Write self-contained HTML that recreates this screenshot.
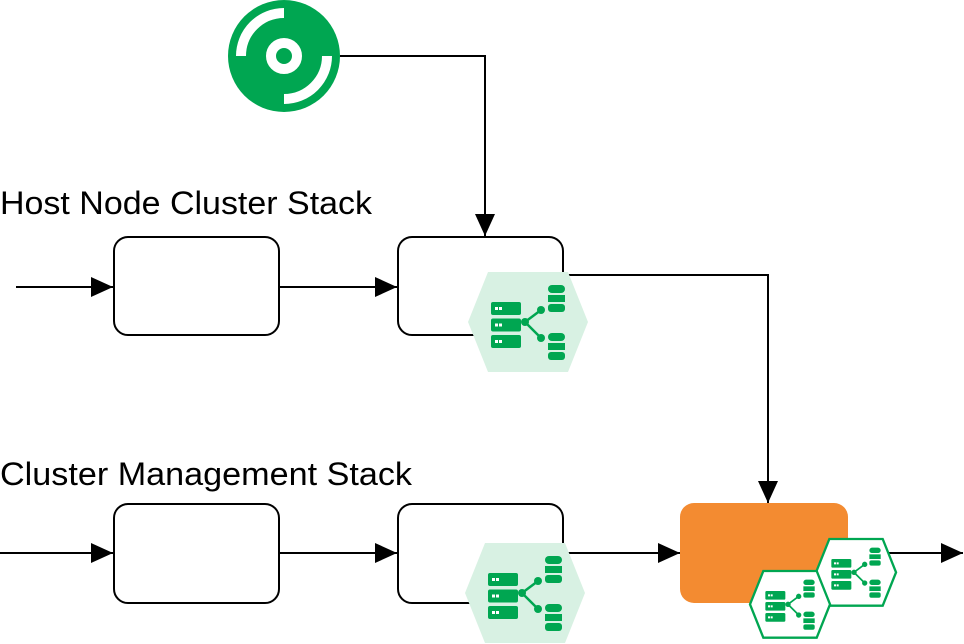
<!DOCTYPE html>
<html><head><style>html,body{margin:0;padding:0;background:#fff;}svg{display:block}</style></head>
<body>
<svg width="964" height="644" viewBox="0 0 964 644" xmlns="http://www.w3.org/2000/svg">
<defs>
<marker id="ah" markerWidth="24" markerHeight="22" refX="22" refY="10" orient="auto" markerUnits="userSpaceOnUse"><path d="M0,0 L22,10 L0,20z" fill="#000"/></marker>
<g id="ico">
  <g fill="#00a651">
    <rect x="23" y="30" width="30" height="13" rx="2"/>
    <rect x="23" y="46.5" width="30" height="13" rx="2"/>
    <rect x="23" y="63" width="30" height="13" rx="2"/>
    <rect x="80" y="13" width="17" height="8" rx="4"/>
    <rect x="80" y="23" width="17" height="7"/>
    <rect x="80" y="32" width="17" height="8" rx="3"/>
    <rect x="80" y="61" width="17" height="8" rx="4"/>
    <rect x="80" y="71" width="17" height="7"/>
    <rect x="80" y="80" width="17" height="8" rx="3"/>
    <circle cx="57" cy="50" r="4"/><circle cx="73" cy="38" r="4"/><circle cx="73" cy="66" r="4"/>
  </g>
  <path d="M57,50 L73,38 M57,50 L73,66" stroke="#00a651" stroke-width="2.5"/>
  <g fill="#fff"><rect x="27" y="35" width="3" height="3"/><rect x="31" y="35" width="3" height="3"/><rect x="27" y="51.5" width="3" height="3"/><rect x="31" y="51.5" width="3" height="3"/><rect x="27" y="68" width="3" height="3"/><rect x="31" y="68" width="3" height="3"/></g>
</g>
</defs>
<!-- disk -->
<circle cx="284" cy="56" r="56" fill="#00a651"/>
<circle cx="284" cy="56" r="13" fill="none" stroke="#fff" stroke-width="10"/>
<path d="M241,56 A43,43 0 0 1 284,13" fill="none" stroke="#fff" stroke-width="10"/>
<path d="M327,56 A43,43 0 0 1 284,99" fill="none" stroke="#fff" stroke-width="10"/>
<g fill="none" stroke="#000" stroke-width="2">
<path d="M340,56 H485 V236" marker-end="url(#ah)"/>
<path d="M16,287 H113" marker-end="url(#ah)"/>
<path d="M280,287 H397" marker-end="url(#ah)"/>
<path d="M563,275 H768 V503" marker-end="url(#ah)"/>
<path d="M0,553 H113" marker-end="url(#ah)"/>
<path d="M280,553 H397" marker-end="url(#ah)"/>
<path d="M563,553 H680" marker-end="url(#ah)"/>
<path d="M888,553 H963" marker-end="url(#ah)"/>
<rect x="114" y="237" width="165" height="98" rx="14"/>
<rect x="398" y="237" width="165" height="98" rx="14"/>
<rect x="114" y="504" width="165" height="99" rx="14"/>
<rect x="398" y="504" width="165" height="99" rx="14"/>
</g>
<text x="0" y="214" font-family="Liberation Sans, sans-serif" font-size="32" textLength="372" lengthAdjust="spacingAndGlyphs">Host Node Cluster Stack</text>
<text x="0" y="485" font-family="Liberation Sans, sans-serif" font-size="32" textLength="412" lengthAdjust="spacingAndGlyphs">Cluster Management Stack</text>
<g transform="translate(468,272)"><path d="M20,0 H100 L120,50 L100,100 H20 L0,50z" fill="#d8f1e3"/><use href="#ico"/></g>
<g transform="translate(465,543)"><path d="M20,0 H100 L120,50 L100,100 H20 L0,50z" fill="#d8f1e3"/><use href="#ico"/></g>
<rect x="680" y="503" width="168" height="100" rx="14" fill="#f38b31"/>
<g transform="translate(816,539) scale(0.667)"><path d="M20,0 H100 L120,50 L100,100 H20 L0,50z" fill="#fff" stroke="#00a651" stroke-width="3.5"/><use href="#ico"/></g>
<g transform="translate(750,571) scale(0.667)"><path d="M20,0 H100 L120,50 L100,100 H20 L0,50z" fill="#fff" stroke="#00a651" stroke-width="3.5"/><use href="#ico"/></g>
</svg>
</body></html>
